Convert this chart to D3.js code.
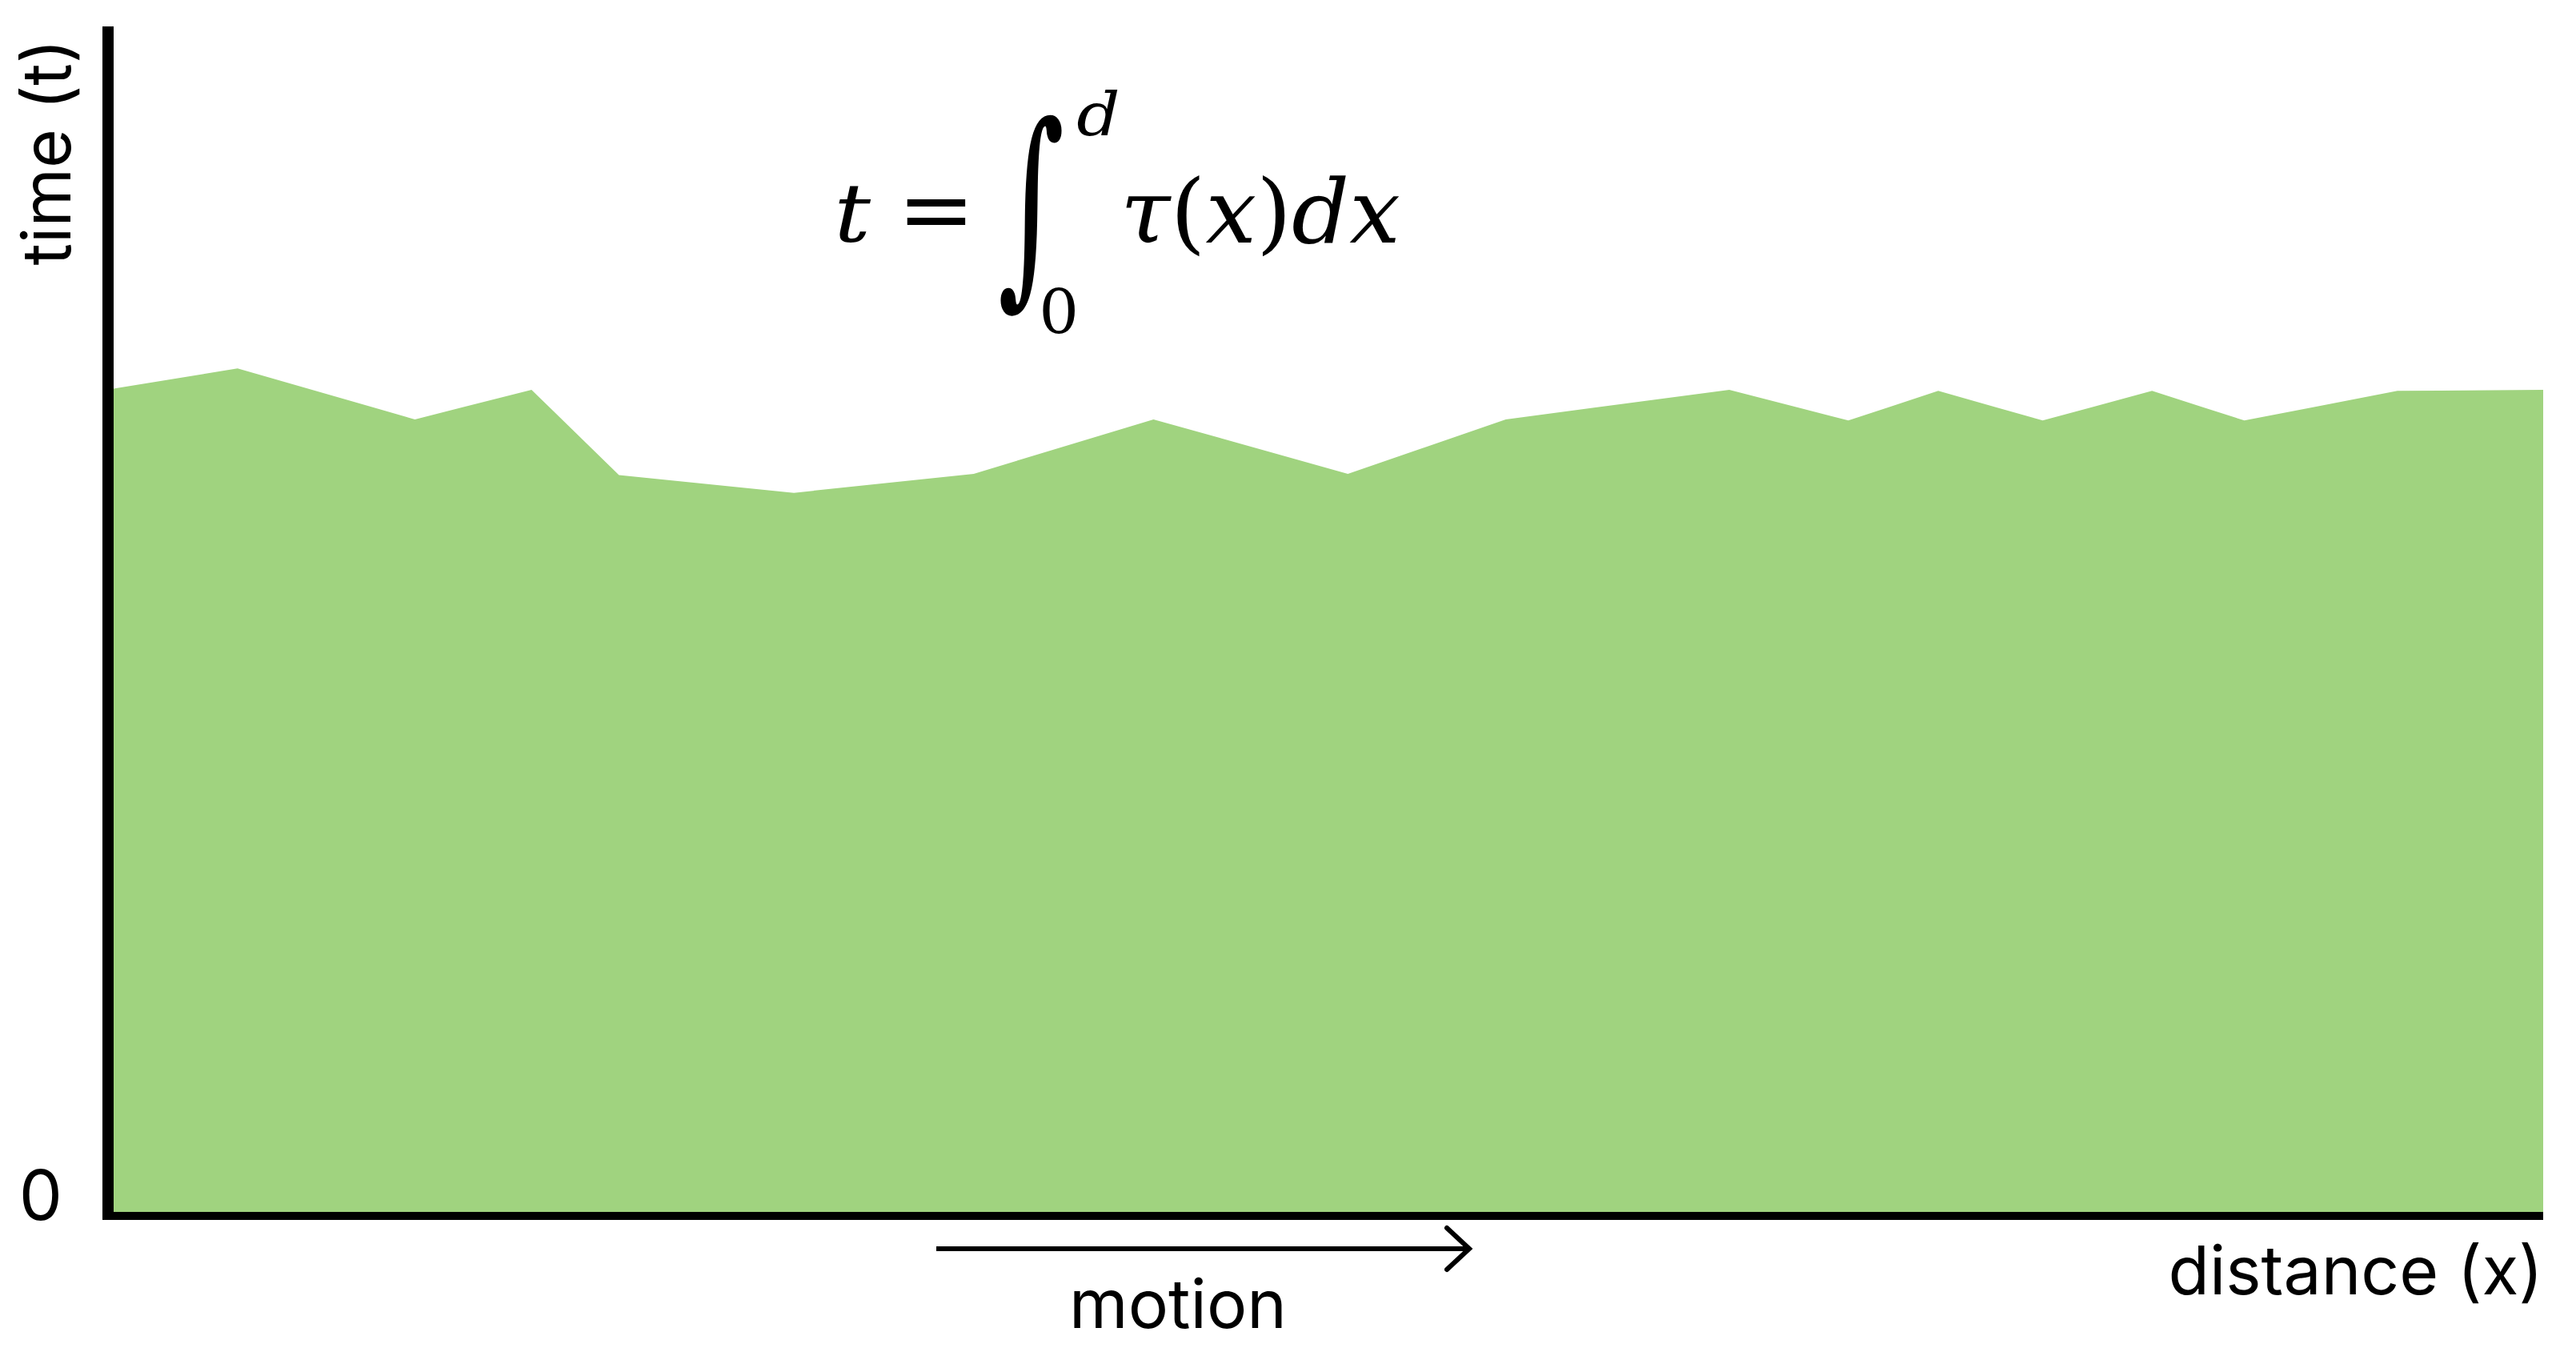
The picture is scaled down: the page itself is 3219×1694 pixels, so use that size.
<!DOCTYPE html>
<html><head><meta charset="utf-8">
<script src="https://cdn.jsdelivr.net/npm/d3@7"></script>
<style>html,body{margin:0;padding:0;background:#fff;} svg{display:block}</style>
</head><body>
<svg id="chart" width="3219" height="1694"></svg>
<script>
// ---- data ----
const distance   = [0, 5.1, 12.4, 17.2, 20.8, 28.0, 35.4, 42.8, 50.8, 57.3, 66.5, 71.4, 75.1, 79.4, 83.9, 87.7, 94.0, 100];
const travelTime = [69.5, 71.2, 66.9, 69.4, 62.2, 60.7, 62.3, 66.9, 62.3, 66.9, 69.4, 66.8, 69.3, 66.8, 69.3, 66.8, 69.3, 69.4];
const yTickLabels = ["0"];
const xLabel = "distance (x)";
const yLabel = "time (t)";
const motionLabel = "motion";

const W = 3219, H = 1694;
const svg = d3.select("#chart");
svg.append("rect").attr("width", W).attr("height", H).attr("fill", "#fff");

const x = d3.scaleLinear().domain([0, 100]).range([142, 3178]);
const y = d3.scaleLinear().domain([0, 100]).range([1514, 34]);

const area = d3.area()
  .x((d, i) => x(distance[i]))
  .y0(y(0))
  .y1(d => y(d))
  .curve(d3.curveLinear);

svg.append("path").datum(travelTime).attr("d", area).attr("fill", "#a0d37f");

// axes
svg.append("line").attr("x1", 135).attr("x2", 135).attr("y1", y(100) - 1).attr("y2", y(0) + 9)
  .attr("stroke", "#000").attr("stroke-width", 14);
svg.append("line").attr("x1", 128).attr("x2", x(100)).attr("y1", y(0) + 5).attr("y2", y(0) + 5)
  .attr("stroke", "#000").attr("stroke-width", 10);

const labelFont = "Inter, 'Noto Sans', sans-serif";
svg.selectAll("text.ytick").data(yTickLabels).enter().append("text")
  .attr("class", "ytick")
  .attr("x", 51).attr("y", y(0) + 10)
  .attr("text-anchor", "middle")
  .attr("font-family", labelFont).attr("font-size", 86).attr("fill", "#000")
  .text(d => d);

svg.append("text")
  .attr("transform", "translate(88,190) rotate(-90)")
  .attr("text-anchor", "middle")
  .attr("font-family", labelFont).attr("font-size", 84).attr("fill", "#000")
  .text(yLabel);

svg.append("text")
  .attr("x", x(100)).attr("y", 1617)
  .attr("text-anchor", "end")
  .attr("font-family", labelFont).attr("font-size", 84).attr("fill", "#000")
  .text(xLabel);

svg.append("text")
  .attr("x", 1472).attr("y", 1659)
  .attr("text-anchor", "middle")
  .attr("font-family", labelFont).attr("font-size", 84).attr("fill", "#000")
  .text(motionLabel);

// motion arrow
svg.append("line").attr("x1", 1170).attr("x2", 1834).attr("y1", 1560).attr("y2", 1560)
  .attr("stroke", "#000").attr("stroke-width", 6);
svg.append("path").attr("d", "M1808,1534 L1836,1560 L1808,1586")
  .attr("fill", "none").attr("stroke", "#000").attr("stroke-width", 6).attr("stroke-linecap", "round");

// ---- formula: t = ∫_0^d τ(x) dx ----
const cv = document.createElement("canvas").getContext("2d");
const mathFamily = "DejaVu Serif";
function fitGlyph(str, style, box) {
  cv.font = `${style} 100px "${mathFamily}"`;
  const m = cv.measureText(str);
  const w = m.actualBoundingBoxLeft + m.actualBoundingBoxRight;
  const h = m.actualBoundingBoxAscent + m.actualBoundingBoxDescent;
  const sx = (box[2] - box[0]) / w, sy = (box[3] - box[1]) / h;
  svg.append("text")
    .attr("transform", `translate(${box[0] + m.actualBoundingBoxLeft * sx},${box[1] + m.actualBoundingBoxAscent * sy}) scale(${sx},${sy})`)
    .attr("font-family", `'${mathFamily}', serif`).attr("font-style", style).attr("font-size", 100).attr("fill", "#000")
    .text(str);
}
fitGlyph("t", "italic", [1048, 233, 1089, 303]);
fitGlyph("=", "normal", [1133, 250, 1207, 282]);
fitGlyph("\u222B", "normal", [1250, 143, 1327, 397]);
fitGlyph("d", "italic", [1346, 112, 1397, 170]);
fitGlyph("0", "normal", [1303, 360, 1343, 417]);

// integrand as one text run, stretched to its measured width
const integrand = [["\u03C4", "italic"], ["(", "normal"], ["x", "italic"], [")", "normal"], ["d", "italic"], ["x", "italic"]];
const it = svg.append("text")
  .attr("font-family", `'${mathFamily}', serif`).attr("font-size", 110).attr("fill", "#000");
integrand.forEach(([s, st]) => it.append("tspan").attr("font-style", st).text(s));
const bb = it.node().getBBox();
const sxI = (1750 - 1400) / bb.width;
it.attr("transform", `translate(${1400 - bb.x * sxI},303) scale(${sxI},1)`);
</script>
</body></html>
